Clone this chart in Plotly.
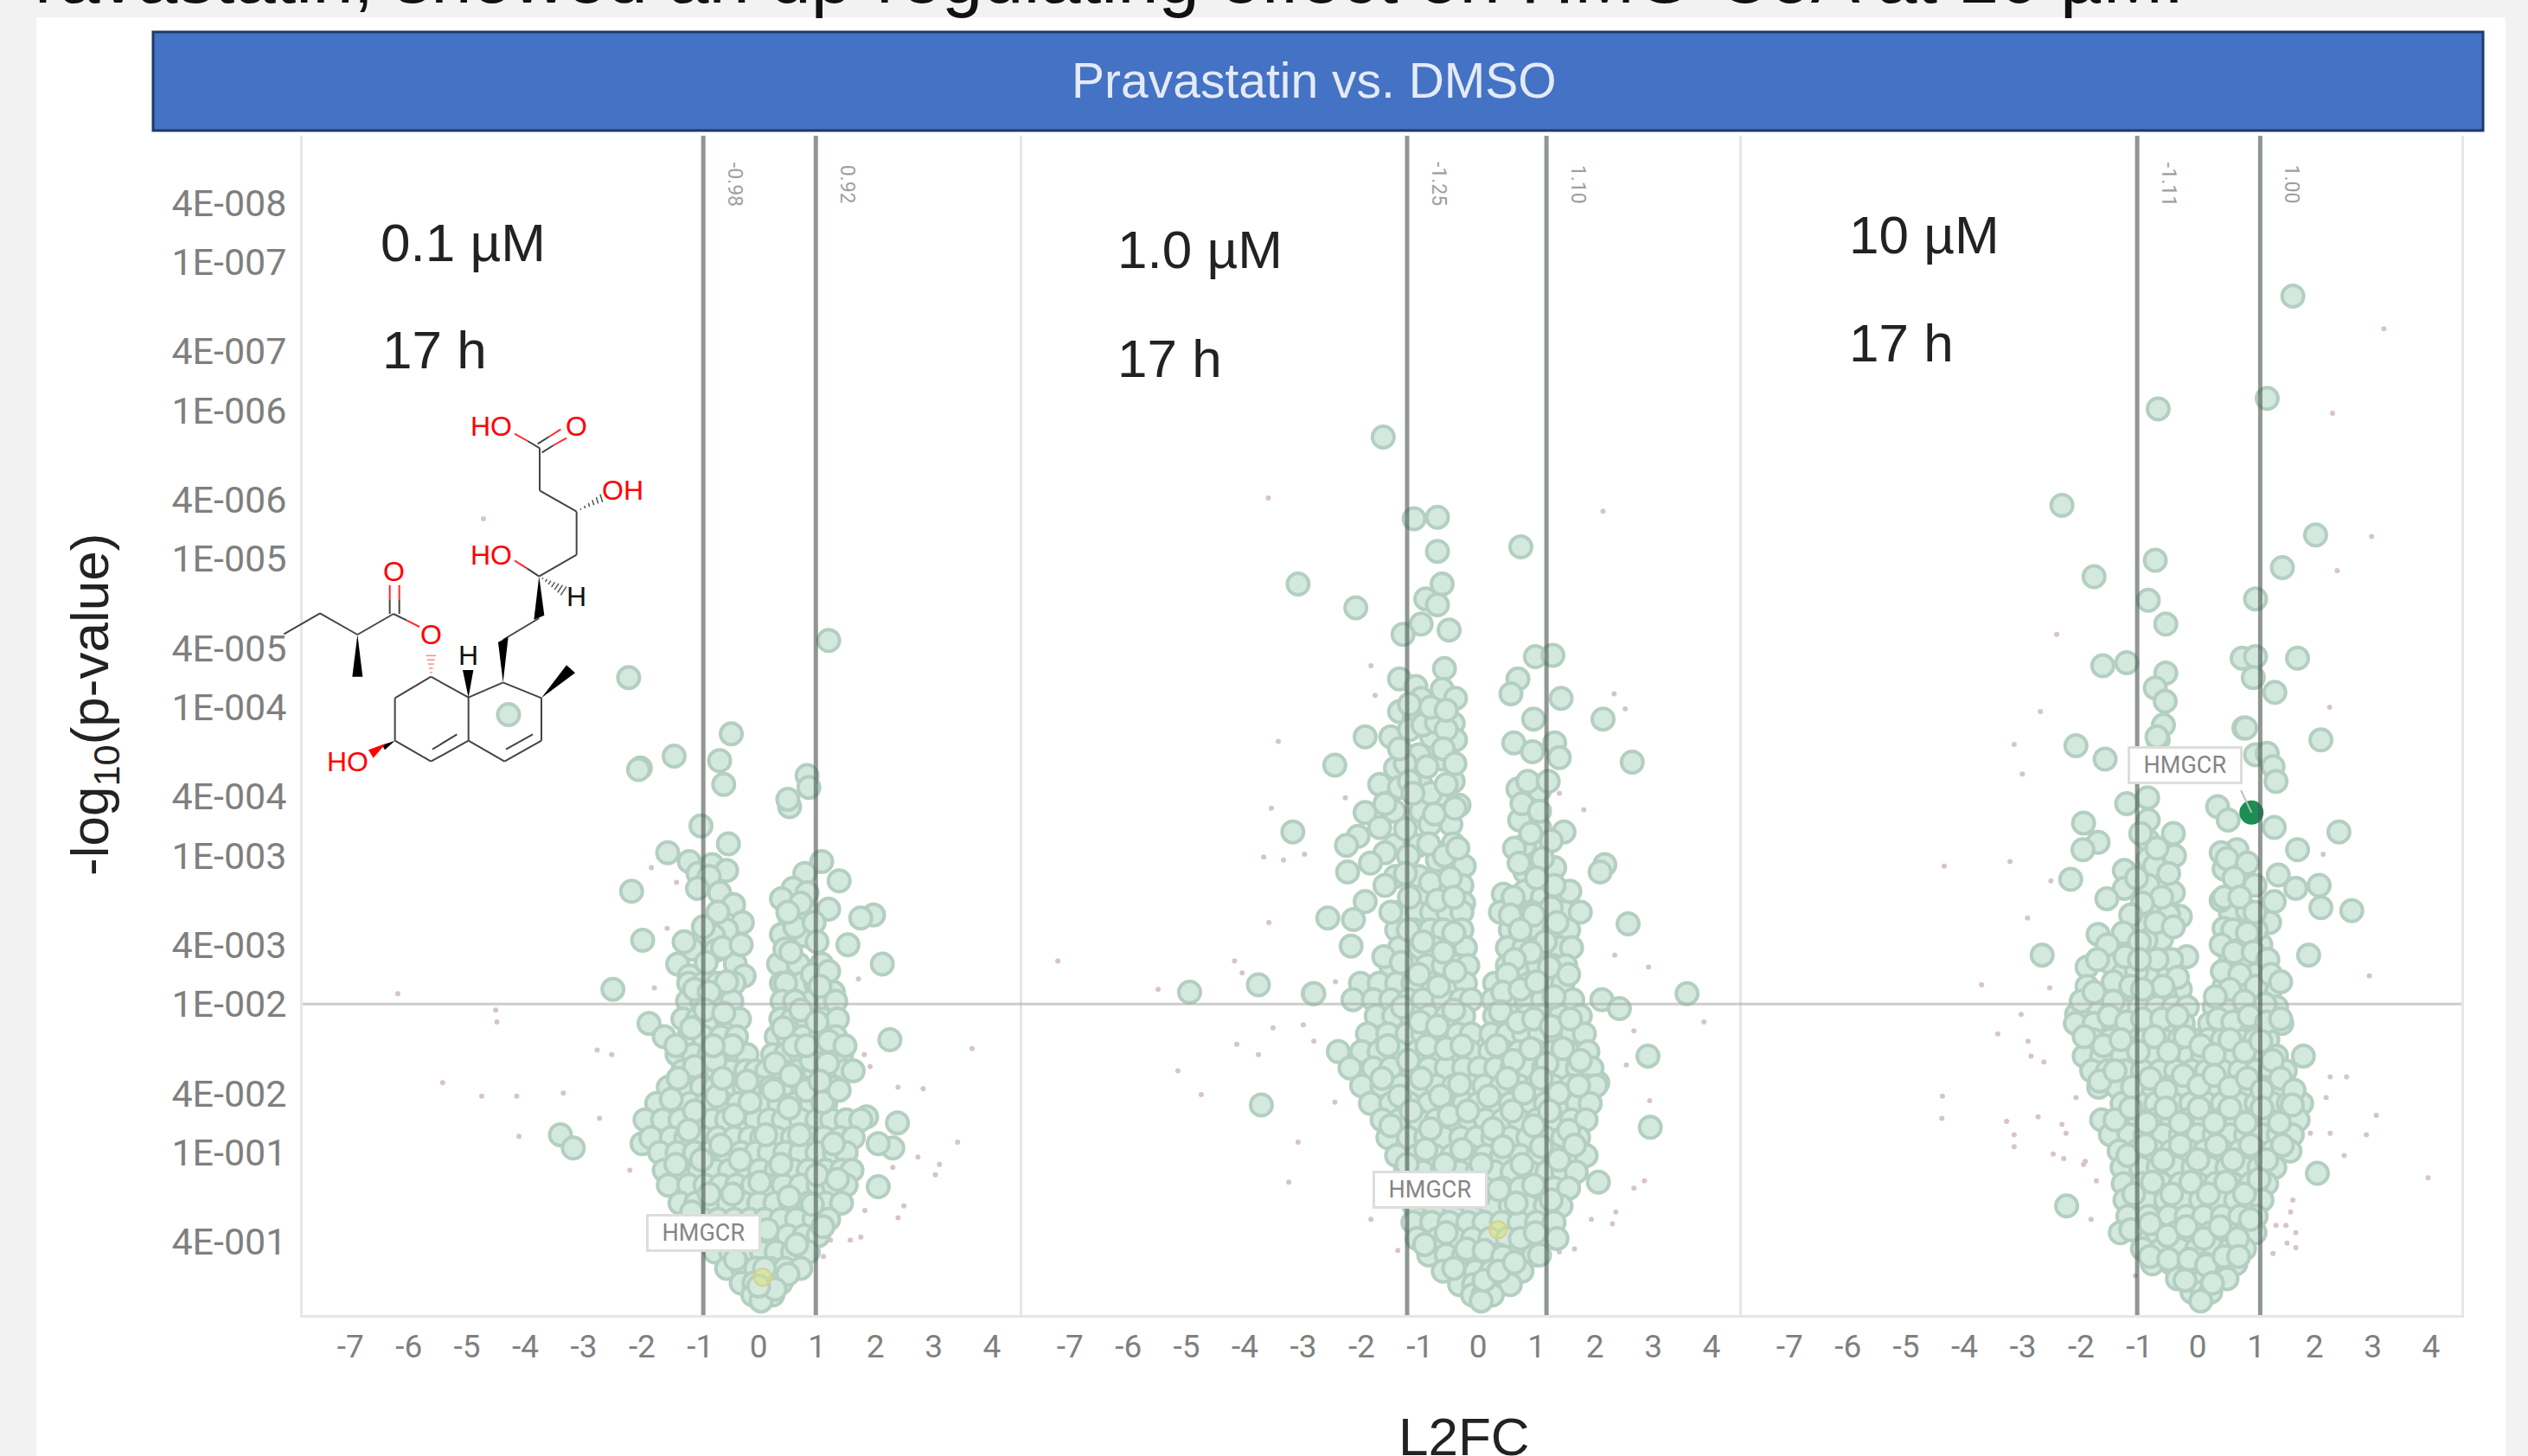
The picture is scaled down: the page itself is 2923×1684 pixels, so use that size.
import plotly.graph_objects as go

W, H = 2923, 1684

# ---- axis content ----
x_tick_vals = [-7, -6, -5, -4, -3, -2, -1, 0, 1, 2, 3, 4]
x_tick_text = ["-7", "-6", "-5", "-4", "-3", "-2", "-1", "0", "1", "2", "3", "4"]
y_tick_vals = [7.398, 7, 6.398, 6, 5.398, 5, 4.398, 4, 3.398, 3, 2.398, 2, 1.398, 1, 0.398]
y_tick_text = ["4E-008", "1E-007", "4E-007", "1E-006", "4E-006", "1E-005", "4E-005", "1E-004",
               "4E-004", "1E-003", "4E-003", "1E-002", "4E-002", "1E-001", "4E-001"]
threshold_p = 2.0
p1_cut = [-0.95, 0.98]; p1_cut_text = ["-0.98", "0.92"]
p2_cut = [-1.22, 1.17]; p2_cut_text = ["-1.25", "1.10"]
p3_cut = [-1.04, 1.07]; p3_cut_text = ["-1.11", "1.00"]

# ---- panel 1: 0.1 uM ----
p1_sparse = [(1.2,4.45),(-4.29,3.95),(-2.23,4.2),(-2.03,3.59),(-0.47,3.82),(-1.45,3.67),(-2.06,3.58),
 (-0.67,3.64),(-0.6,3.48),(0.83,3.54),(0.86,3.46),(0.53,3.33),(0.5,3.38),(-0.99,3.2),(-0.52,3.08),
 (-1.56,3.02),(-1.19,2.96),(-1.04,2.88),(-0.8,2.94),(-0.55,2.9),(-0.85,2.86),(-2.18,2.76),(-0.67,2.75),
 (-0.43,2.67),(-0.28,2.55),(-0.55,2.5),(-0.77,2.46),(-1.99,2.43),(-1.14,2.37),(-1.39,2.27),(-1.19,2.19),
 (-0.4,2.27),(-0.74,2.36),(-0.25,2.19),(-2.5,2.1),(1.08,2.96),(0.79,2.88),(1.38,2.83),(0.59,2.78),
 (0.39,2.71),(0.83,2.75),(1.2,2.64),(0.52,2.6),(0.82,2.63),(1.97,2.6),(1.75,2.58),(0.39,2.47),(0.79,2.46),
 (1.53,2.4),(0.34,2.27),(0.68,2.27),(1.08,2.27),(0.45,2.37),(2.12,2.27),(1.28,2.08),(0.39,2.14),(0.74,2.14),
 (-1.88,1.87),(2.25,1.76),(2.38,1.2),(2.3,1.03),(2.05,0.77),(2.05,1.06),(1.85,1.24),(-3.4,1.12),(-3.18,1.03),
 (-2.0,1.06)]
p1_rows = [
 (2.14,[-1.2,-0.95,-0.7,-0.42,0.46,0.98]),
 (2.02,[-1.22,-0.98,-0.72,-0.46,0.4,0.62,0.9,1.18,1.32]),
 (1.9,[-1.3,-1.05,-0.8,-0.55,-0.33,0.38,0.58,0.82,1.1,1.35]),
 (1.78,[-1.62,-1.2,-0.95,-0.65,-0.38,0.3,0.5,0.76,1.05,1.32]),
 (1.66,[-1.4,-1.12,-0.85,-0.6,-0.35,-0.2,0.24,0.46,0.72,0.98,1.26,1.42]),
 (1.55,[-1.3,-1.0,-0.72,-0.48,-0.22,-0.05,0.14,0.4,0.66,0.95,1.22,1.48,1.62]),
 (1.44,[-1.55,-1.25,-0.98,-0.75,-0.5,-0.25,0.0,0.2,0.45,0.75,1.02,1.3]),
 (1.33,[-1.75,-1.45,-1.18,-0.9,-0.6,-0.35,-0.1,0.1,0.35,0.62,0.9,1.15]),
 (1.22,[-1.95,-1.65,-1.35,-1.05,-0.8,-0.55,-0.3,-0.05,0.18,0.42,0.72,1.0,1.25,1.5,1.75]),
 (1.1,[-1.85,-1.5,-1.25,-0.95,-0.7,-0.42,-0.15,0.05,0.3,0.58,0.85,1.12,1.4,1.62]),
 (1.0,[-1.7,-1.4,-1.1,-0.85,-0.58,-0.3,-0.05,0.18,0.45,0.72,1.0,1.3,1.5]),
 (0.88,[-1.62,-1.3,-1.02,-0.75,-0.5,-0.2,0.02,0.3,0.6,0.85,1.15,1.42,1.6]),
 (0.78,[-1.55,-1.2,-0.92,-0.65,-0.38,-0.1,0.15,0.42,0.72,1.02,1.28,1.5]),
 (0.66,[-1.35,-1.08,-0.8,-0.52,-0.25,0.0,0.28,0.55,0.85,1.15,1.42]),
 (0.55,[-0.95,-0.7,-0.42,-0.15,0.1,0.38,0.65,0.95,1.2]),
 (0.44,[-0.85,-0.6,-0.3,-0.05,0.2,0.5,0.78,1.02]),
 (0.33,[-0.75,-0.48,-0.2,0.05,0.3,0.58,0.85]),
 (0.22,[-0.55,-0.28,-0.05,0.2,0.45,0.72]),
 (0.12,[-0.3,-0.08,0.15,0.38]),
 (0.04,[-0.1,0.08,0.24]),
 (0.0,[0.04]),
]
p1_fill = [(-1.05,2.78),(-0.7,2.62),(-0.95,2.52),(-0.62,2.38),(-0.9,2.28),(-1.28,2.42),(-0.55,2.15),(-0.3,2.4),(-1.1,2.1),
 (-0.85,2.08),(0.62,2.52),(0.95,2.55),(0.72,2.68),(1.0,2.42),(0.55,2.35),(0.92,2.2),(1.2,2.22),(0.62,2.02),(0.5,2.62),(1.05,2.12),
 (-1.42,1.72),(-1.1,1.58),(-0.75,1.62),(-0.45,1.72),(-0.2,1.48),(0.28,1.6),(0.6,1.72),(0.9,1.62),(1.2,1.75),(1.48,1.72),
 (-1.5,1.36),(-1.1,1.28),(-0.72,1.38),(-0.42,1.25),(-0.15,1.34),(0.25,1.42),(0.52,1.3),(0.82,1.42),(1.1,1.34),(1.38,1.42),
 (-1.2,1.15),(-0.65,1.05),(-0.98,0.95),(-0.32,0.95),(0.12,1.12),(0.38,0.92),(0.7,1.12),(1.0,0.85),(1.28,1.06),(-1.42,0.92),
 (-0.85,0.72),(-0.45,0.72),(0.02,0.8),(0.52,0.7),(0.92,0.65),(1.35,0.82),(-1.15,0.6),(-0.62,0.5),(-0.25,0.42),(0.15,0.48),
 (0.65,0.38),(1.1,0.5),(-0.4,0.28),(0.1,0.22),(0.5,0.18),(0.28,0.08),(0.0,0.1),(-0.92,1.96),(-0.6,1.94),(0.72,1.96),(1.0,1.88),
 (-1.15,1.84),(-0.78,1.72),(0.42,1.84),(0.82,1.72),(1.18,1.6),(-0.62,1.5),(-1.38,1.5),(0.55,1.52),(1.05,1.48)]
p1_minor = [(-6.19,2.07),(-4.51,1.96),(-4.49,1.88),(-5.42,1.47),(-4.75,1.38),(-4.15,1.38),(-3.35,1.4),(-4.11,1.11),
 (-2.73,1.23),(-2.21,0.88),(-2.77,1.69),(-2.52,1.66),(-1.84,2.92),(-1.41,2.82),(-1.57,2.51),(-1.79,2.11),(3.66,1.7),
 (2.39,1.44),(2.82,1.43),(3.41,1.07),(2.73,0.97),(3.1,0.92),(3.03,0.85),(2.3,0.9),(2.49,0.64),(2.39,0.56),(1.82,0.61),
 (1.81,1.66),(1.91,1.58),(1.71,2.17),(1.75,0.43),(1.57,0.41),(1.23,0.41),(1.11,0.3),(-4.72,5.27)]
p1_target = (0.07, 0.16)

# ---- panel 2: 1.0 uM ----
p2_sparse = [(-1.63,5.82),(-1.1,5.27),(-0.7,5.28),(-0.7,5.05),(0.73,5.08),(-3.09,4.83),(-2.1,4.67),(-0.62,4.83),
 (-0.9,4.73),(-0.7,4.69),(-0.98,4.56),(-0.5,4.52),(-1.29,4.49),(0.98,4.34),(1.28,4.35),(0.68,4.19),(0.56,4.09),
 (-1.35,4.19),(-0.58,4.26),(-0.62,4.12),(-1.07,4.14),(-0.39,4.06),(-0.98,4.06),(1.42,4.06),(-1.35,3.97),(-0.77,3.97),
 (2.14,3.92),(-0.43,3.89),(0.95,3.92),(-1.1,3.92),(-1.94,3.8),(-1.5,3.8),(-0.8,3.8),(-0.39,3.78),(0.61,3.76),(1.31,3.76),
 (0.93,3.7),(1.39,3.66),(-1.02,3.68),(-0.62,3.65),(-2.46,3.61),(2.64,3.63),(-1.42,3.59),(-0.43,3.5),(-1.69,3.48),
 (-0.98,3.48),(-1.35,3.46),(0.68,3.45),(1.05,3.44),(-0.7,3.4),(-0.33,3.34),(-1.94,3.29),(-1.44,3.3),(-0.98,3.3),
 (0.71,3.24),(1.05,3.19),(1.47,3.16),(-3.18,3.16),(-1.69,3.19),(-0.47,3.21),(-0.83,3.21),(-2.06,3.13),(-2.26,3.07),
 (-1.02,3.07),(-0.43,3.08),(-1.44,3.07),(0.98,3.07),(0.79,3.07),(-2.24,2.89),(-0.7,2.97),(-0.24,2.93),(1.31,2.92),
 (0.8,2.89),(2.17,2.94),(2.09,2.89),(-1.42,2.86),(-1.02,2.86),(-0.58,2.76),(-0.28,2.8),(0.43,2.74),(0.8,2.76),(1.57,2.76),
 (-1.94,2.69),(-1.0,2.72),(1.1,2.72),(-0.25,2.68),(-2.58,2.58),(-2.14,2.57),(-1.37,2.53),(-2.18,2.39),(2.57,2.54),
 (-2.83,2.07),(3.58,2.07),(2.12,2.03),(2.42,1.97),(-2.02,2.14),(2.91,1.65),(2.05,1.47),(2.95,1.17),(2.06,0.8),
 (-4.95,2.08),(-3.77,2.13),(-2.82,2.07),(-3.72,1.32)]
p2_rows = [
 (2.62,[-1.35,-1.05,-0.8,-0.52,-0.28,0.38,0.65,0.92,1.2,1.48,1.75]),
 (2.5,[-1.4,-1.1,-0.82,-0.6,-0.28,0.55,0.8,1.05,1.3,1.55]),
 (2.38,[-1.35,-1.0,-0.75,-0.45,-0.22,0.5,0.78,1.08,1.4,1.6]),
 (2.26,[-1.5,-1.2,-0.88,-0.6,-0.35,-0.18,0.5,0.75,1.02,1.3,1.5]),
 (2.14,[-1.7,-1.4,-1.12,-0.78,-0.5,-0.22,0.28,0.58,0.88,1.18,1.45]),
 (2.03,[-2.15,-1.8,-1.5,-1.2,-0.95,-0.6,-0.3,-0.12,0.25,0.52,0.82,1.1,1.35,1.62]),
 (1.92,[-1.75,-1.45,-1.15,-0.85,-0.55,-0.25,0.28,0.55,0.82,1.1,1.4,1.75]),
 (1.8,[-1.9,-1.55,-1.22,-0.95,-0.62,-0.35,-0.12,0.22,0.5,0.78,1.05,1.32,1.6,1.82]),
 (1.68,[-2.4,-2.0,-1.7,-1.38,-1.05,-0.72,-0.42,-0.14,0.2,0.45,0.7,1.0,1.28,1.55,1.88]),
 (1.57,[-2.2,-1.8,-1.5,-1.15,-0.85,-0.55,-0.25,0.02,0.3,0.58,0.85,1.12,1.4,1.7,1.95]),
 (1.45,[-2.0,-1.65,-1.32,-1.02,-0.72,-0.42,-0.12,0.1,0.4,0.7,0.98,1.28,1.58,1.85,2.02]),
 (1.33,[-1.85,-1.5,-1.18,-0.85,-0.55,-0.25,0.0,0.28,0.55,0.85,1.15,1.45,1.7,1.92]),
 (1.22,[-1.65,-1.35,-1.02,-0.72,-0.42,-0.15,0.12,0.42,0.7,1.0,1.3,1.6,1.85]),
 (1.1,[-1.55,-1.2,-0.9,-0.6,-0.3,-0.03,0.25,0.55,0.85,1.15,1.45,1.72]),
 (0.98,[-1.4,-1.05,-0.75,-0.45,-0.15,0.12,0.4,0.72,1.02,1.3,1.6,1.85]),
 (0.87,[-1.25,-0.95,-0.62,-0.32,-0.02,0.28,0.58,0.88,1.18,1.45,1.68]),
 (0.76,[-1.2,-0.85,-0.5,-0.2,0.1,0.42,0.72,1.02,1.3,1.55]),
 (0.64,[-1.1,-0.75,-0.42,-0.1,0.22,0.55,0.85,1.15,1.42]),
 (0.53,[-1.12,-0.8,-0.5,-0.18,0.1,0.4,0.7,1.0,1.3]),
 (0.42,[-1.05,-0.7,-0.4,-0.1,0.2,0.5,0.82,1.1,1.35]),
 (0.31,[-0.85,-0.55,-0.25,0.05,0.35,0.65,0.95,1.05]),
 (0.2,[-0.6,-0.32,-0.05,0.22,0.5,0.75]),
 (0.11,[-0.32,-0.08,0.15,0.38,0.55]),
 (0.04,[-0.1,0.08,0.24]),
 (0.0,[0.05]),
]
p2_fill = [(-1.18,3.85),(-0.95,3.88),(-0.72,3.9),(-0.55,3.85),(-1.25,3.62),(-0.88,3.6),(-0.6,3.72),(-0.4,3.62),(-1.18,3.5),
 (-0.82,3.42),(-0.55,3.48),(-1.25,3.18),(-1.6,3.35),(-0.75,3.28),(-0.4,3.32),(-1.6,3.02),(-1.2,3.0),(-0.85,3.08),(-0.58,3.0),
 (-0.35,3.05),(-1.85,2.95),(-1.25,2.88),(-0.82,2.82),(-0.48,2.85),(-1.6,2.8),(-1.18,2.72),(-0.7,2.7),(-0.42,2.72),(-1.5,2.62),
 (-1.2,2.5),(-0.95,2.42),(-0.6,2.35),(-0.42,2.48),(-1.12,3.42),(-1.35,3.72),(-0.82,4.0),(-1.18,4.02),(-0.55,3.98),
 (0.85,3.5),(1.2,3.5),(0.75,3.35),(1.05,3.3),(0.9,3.15),(1.25,3.1),(0.62,3.05),(1.1,2.98),(0.7,2.95),(1.3,2.8),(1.0,2.85),(0.6,2.72),
 (1.25,2.65),(0.95,2.6),(0.55,2.6),(1.35,2.55),(0.72,2.5),(1.15,2.42),(0.9,2.35),(0.62,2.3),(1.22,2.25),(0.5,2.2),
 (-1.62,2.32),(-1.32,2.28),(-1.02,2.2),(-0.68,2.12),(-0.4,2.22),(0.42,2.08),(0.72,2.1),(1.0,2.15),(1.3,2.05),(1.55,2.2),
 (-1.3,1.98),(-1.0,1.88),(-0.7,1.85),(-0.42,1.96),(0.38,1.95),(0.68,1.88),(0.95,1.9),(1.25,1.85),(1.58,1.9),
 (-1.55,1.72),(-1.2,1.62),(-0.88,1.72),(-0.55,1.7),(-0.28,1.72),(0.32,1.72),(0.6,1.62),(0.9,1.7),(1.18,1.6),(1.45,1.7),(1.75,1.62),
 (-1.65,1.5),(-1.35,1.38),(-0.98,1.5),(-0.65,1.38),(-0.32,1.46),(0.18,1.38),(0.5,1.5),(0.78,1.4),(1.08,1.5),(1.38,1.4),(1.72,1.45),
 (-1.5,1.18),(-1.15,1.28),(-0.82,1.16),(-0.5,1.25),(-0.18,1.28),(0.25,1.16),(0.58,1.28),(0.95,1.18),(1.22,1.28),(1.55,1.15),
 (-1.22,0.92),(-0.9,1.02),(-0.58,0.92),(-0.28,1.02),(0.05,0.92),(0.42,1.04),(0.75,0.92),(1.08,1.04),(1.38,0.95),(1.65,1.05),
 (-1.0,0.7),(-0.65,0.78),(-0.3,0.7),(0.0,0.7),(0.35,0.75),(0.65,0.66),(0.95,0.78),(1.25,0.68),
 (-0.92,0.38),(-0.55,0.46),(-0.2,0.35),(0.1,0.34),(0.42,0.3),(0.72,0.42),(0.98,0.46),(-0.42,0.22),(0.1,0.14),(0.35,0.2),(0.62,0.26)]
p2_minor = [(-3.6,5.41),(2.14,5.32),(-1.84,4.28),(-1.77,4.08),(2.33,4.09),(2.52,3.99),(-3.43,3.77),(-2.28,3.39),
 (-3.55,3.32),(1.81,3.31),(1.39,3.42),(-3.68,2.99),(-3.34,2.97),(-2.98,3.01),(-3.59,2.55),(-7.21,2.29),(-4.18,2.29),
 (-5.49,2.1),(-4.05,2.21),(-2.45,2.15),(2.34,2.33),(2.92,2.25),(-3.0,1.86),(-3.52,1.84),(-4.14,1.73),(-3.77,1.66),
 (-2.82,1.75),(-5.15,1.55),(-4.75,1.39),(-3.09,1.07),(-2.46,1.34),(-3.25,0.8),(-1.84,0.55),(-1.38,0.34),(2.67,1.82),
 (3.87,1.88),(2.54,1.59),(2.94,1.35),(2.85,0.81),(2.67,0.76),(2.36,0.6),(2.3,0.52),(1.94,0.55),(1.65,0.35),(1.39,0.33)]
p2_target = (0.34, 0.48)

# ---- panel 3: 10 uM ----
p3_sparse = [(1.63,6.77),(-0.68,6.01),(1.19,6.08),(-2.33,5.36),(2.02,5.16),(1.45,4.94),(-1.78,4.88),(-0.73,4.99),
 (-0.85,4.72),(0.99,4.73),(-0.55,4.56),(-1.63,4.28),(-1.22,4.3),(-0.55,4.23),(0.76,4.33),(0.99,4.34),(1.71,4.33),
 (-0.73,4.13),(0.95,4.2),(1.32,4.1),(-0.56,4.04),(-0.59,3.88),(2.11,3.78),(0.79,3.86),(-0.68,3.78),(-2.09,3.74),
 (-1.59,3.65),(0.82,3.86),(0.99,3.68),(1.19,3.69),(1.29,3.6),(1.34,3.5),(-0.7,3.8),(-1.22,3.35),(-0.86,3.39),(-0.85,3.24),
 (-0.85,3.1),(0.34,3.33),(0.52,3.24),(1.31,3.19),(-1.96,3.22),(2.42,3.16),(-0.42,3.15),(-1.71,3.09),(-1.97,3.04),(1.71,3.04),
 (0.67,3.04),(0.4,3.02),(-0.4,3.0),(-0.85,2.98),(-1.26,2.9),(-0.74,2.93),(-2.18,2.84),(1.38,2.87),(0.74,2.86),(0.45,2.91),
 (2.08,2.8),(1.68,2.78),(-0.42,2.75),(-0.85,2.8),(-1.26,2.78),(-1.56,2.71),(2.11,2.65),(2.64,2.63),(1.31,2.69),(-0.85,2.63),
 (-0.3,2.59),(0.56,2.61),(0.4,2.7),(0.85,2.63),(-1.71,2.47),(-0.62,2.44),(-0.89,2.43),(0.74,2.42),(0.45,2.51),(1.23,2.55),
 (1.9,2.33),(-2.67,2.33),(-1.51,2.28),(-0.19,2.32),(0.56,2.3),(-1.9,2.25),(-0.79,2.18),(-1.29,2.2),(-1.9,2.12),(-0.3,2.1),
 (0.45,2.12),(0.7,2.07),(1.23,2.07),(-2.08,1.93),(-1.05,2.22),(-0.5,2.2),(0.85,2.28),(1.08,2.4),(-1.05,2.55),(-0.5,2.6),
 (1.0,2.5),(1.0,2.2),(-1.2,2.05),(-0.85,2.02),(-0.55,2.05),(-1.6,2.07),(2.05,0.86),(-2.25,0.64)]
p3_rows = [
 (1.98,[-1.7,-1.35,-1.0,-0.7,-0.42,-0.18,0.28,0.55,0.82,1.1,1.35]),
 (1.87,[-2.1,-1.78,-1.45,-1.15,-0.85,-0.55,-0.25,0.2,0.45,0.72,1.0,1.25,1.44]),
 (1.76,[-1.8,-1.5,-1.18,-0.9,-0.6,-0.32,-0.08,0.18,0.42,0.7,0.98,1.2]),
 (1.65,[-1.95,-1.65,-1.3,-1.0,-0.72,-0.42,-0.15,0.08,0.35,0.62,0.9,1.15,1.35,1.81]),
 (1.55,[-1.82,-1.55,-1.25,-0.95,-0.65,-0.38,-0.1,0.15,0.42,0.72,1.0,1.25,1.5]),
 (1.44,[-1.7,-1.38,-1.08,-0.8,-0.52,-0.25,0.05,0.3,0.58,0.85,1.12,1.38]),
 (1.33,[-1.3,-1.0,-0.72,-0.42,-0.12,0.15,0.42,0.72,1.0,1.28,1.55,1.78]),
 (1.22,[-1.65,-1.32,-1.02,-0.75,-0.45,-0.18,0.1,0.38,0.65,0.92,1.22,1.5,1.72]),
 (1.12,[-1.5,-1.18,-0.9,-0.6,-0.3,0.0,0.28,0.55,0.82,1.1,1.38,1.62]),
 (1.01,[-1.35,-1.05,-0.75,-0.45,-0.15,0.12,0.42,0.72,1.0,1.28,1.58]),
 (0.9,[-1.3,-0.98,-0.68,-0.38,-0.08,0.2,0.5,0.78,1.05,1.32]),
 (0.79,[-1.28,-0.95,-0.62,-0.3,0.0,0.3,0.6,0.9,1.18]),
 (0.68,[-1.25,-0.9,-0.55,-0.25,0.05,0.35,0.65,0.95,1.1]),
 (0.57,[-1.2,-0.85,-0.5,-0.2,0.1,0.42,0.72,1.0]),
 (0.46,[-1.33,-1.0,-0.7,-0.38,-0.08,0.22,0.52,0.8,0.98]),
 (0.35,[-0.95,-0.62,-0.32,-0.02,0.28,0.55,0.8]),
 (0.25,[-0.78,-0.45,-0.15,0.12,0.4,0.65]),
 (0.15,[-0.35,-0.12,0.12,0.35,0.5]),
 (0.06,[-0.1,0.08,0.22]),
 (0.0,[0.05]),
]
p3_fill = [(-0.98,3.15),(-0.7,3.05),(-0.5,2.88),(-1.05,2.85),(-0.62,2.72),(-0.95,2.68),(-1.15,2.6),(-0.72,2.55),(-0.42,2.52),
 (-1.28,2.48),(-1.0,2.42),(-0.45,2.3),(-1.55,2.4),(-1.25,2.32),(-0.7,2.3),(-1.0,2.3),(-1.72,2.3),(-0.35,2.18),(-0.6,2.12),
 (-1.45,2.15),(-1.15,2.12),(-0.95,2.1),(-2.0,2.02),(-1.78,2.08),(-1.45,2.02),
 (0.5,2.98),(0.85,2.95),(0.62,2.85),(0.98,2.8),(0.45,2.72),(0.72,2.72),(0.98,2.62),(0.6,2.5),(0.85,2.48),(0.4,2.4),(0.62,2.35),
 (0.95,2.35),(1.2,2.3),(0.42,2.22),(0.72,2.2),(1.0,2.12),(0.55,2.1),(1.25,2.2),(0.3,2.05),(0.8,2.02),(1.15,2.0),(1.42,2.15),
 (-1.52,1.92),(-1.22,1.88),(-0.95,1.9),(-0.62,1.9),(-0.35,1.92),(0.35,1.9),(0.6,1.88),(0.88,1.92),(1.18,1.88),(1.42,1.9),
 (-1.95,1.78),(-1.62,1.72),(-1.32,1.76),(-1.02,1.68),(-0.75,1.78),(-0.5,1.68),(-0.22,1.78),(0.05,1.72),(0.28,1.66),(0.55,1.76),
 (0.8,1.68),(1.08,1.75),(1.28,1.62),
 (-1.68,1.48),(-1.42,1.55),(-1.12,1.44),(-0.82,1.5),(-0.55,1.42),(-0.25,1.52),(0.02,1.45),(0.28,1.52),(0.55,1.44),(0.85,1.5),
 (1.1,1.42),(1.42,1.5),(1.65,1.42),
 (-1.42,1.22),(-1.15,1.3),(-0.88,1.2),(-0.55,1.3),(-0.3,1.2),(0.02,1.3),(0.28,1.2),(0.55,1.3),(0.82,1.2),(1.1,1.3),(1.4,1.2),(1.62,1.32),
 (-1.2,0.98),(-0.9,1.05),(-0.6,0.95),(-0.3,1.05),(0.0,0.95),(0.32,1.05),(0.6,0.95),(0.9,1.05),(1.18,0.95),(1.45,1.05),
 (-1.1,0.72),(-0.78,0.8),(-0.45,0.72),(-0.12,0.8),(0.18,0.72),(0.48,0.8),(0.8,0.72),(1.05,0.82),
 (-1.15,0.48),(-0.82,0.52),(-0.52,0.44),(-0.2,0.5),(0.1,0.42),(0.38,0.5),(0.68,0.42),(0.9,0.55),
 (-0.82,0.3),(-0.5,0.28),(-0.15,0.28),(0.15,0.24),(0.45,0.3),(0.7,0.3),(-0.22,0.14),(0.25,0.12)]
p3_minor = [(3.19,6.55),(2.31,5.98),(2.98,5.15),(2.39,4.92),(-2.42,4.49),(2.26,4.0),(-2.7,3.97),(-3.15,3.75),(-3.01,3.55),
 (-4.35,2.93),(-3.22,2.96),(-2.52,2.83),(-2.92,2.58),(2.15,3.01),(2.94,2.19),(-3.71,2.13),(-2.54,2.11),(-3.03,1.93),
 (-3.43,1.8),(-2.91,1.75),(-2.86,1.65),(-2.64,1.61),(-4.38,1.38),(-4.39,1.23),(-3.28,1.21),(-3.15,1.12),(-3.15,1.04),
 (-2.74,1.24),(-2.33,1.19),(-2.26,1.13),(-2.09,1.37),(-2.48,0.99),(-1.93,0.94),(-1.74,0.81),(2.27,1.51),(2.55,1.51),
 (2.2,1.37),(3.06,1.25),(2.89,1.12),(1.93,1.13),(2.27,1.13),(3.95,0.83),(2.51,0.98),(1.51,0.51),(1.34,0.51),(1.68,0.46),
 (1.53,0.39),(1.68,0.36),(1.29,0.32),(1.63,0.68),(1.59,0.6),(-1.07,0.17),(-1.83,0.55),(-1.96,0.92),(-2.3,0.96)]
p3_target = (0.92, 3.29)

panel_titles = [("0.1 µM", "17 h"), ("1.0 µM", "17 h"), ("10 µM", "17 h")]
hmgcr_boxes = [(-0.95, 0.46), (-0.83, 0.75), (-0.22, 3.61)]

# ---- layout helpers (page pixels to paper fractions) ----
def fx(px): return px / W
def fy(py): return 1 - py / H

LEFT = [350, 1182, 2014]
PANEL_W = 832
TOP, BOTTOM = 157, 1521
XR = [-7.82, 4.52]
YR = [-0.095, 7.85]

def unpack(sparse, rows, fill):
    xs = [p[0] for p in sparse]
    ys = [p[1] for p in sparse]
    for y, row in rows:
        xs += row
        ys += [y] * len(row)
    xs += [p[0] for p in fill]
    ys += [p[1] for p in fill]
    return xs, ys

fig = go.Figure()
panels = [(p1_sparse, p1_rows, p1_fill, p1_minor, p1_target, p1_cut, p1_cut_text),
          (p2_sparse, p2_rows, p2_fill, p2_minor, p2_target, p2_cut, p2_cut_text),
          (p3_sparse, p3_rows, p3_fill, p3_minor, p3_target, p3_cut, p3_cut_text)]
shapes, annos = [], []

# page background and header
shapes.append(dict(type="rect", xref="paper", yref="paper", x0=fx(42), x1=fx(2897), y0=fy(1684), y1=fy(20),
                   fillcolor="white", line_width=0, layer="below"))
shapes.append(dict(type="rect", xref="paper", yref="paper", x0=fx(177), x1=fx(2871), y0=fy(151), y1=fy(37),
                   fillcolor="#4472c4", line=dict(color="#1f3a68", width=3), layer="below"))

for i, (sparse, rows, fill, minor, target, cut, cut_text) in enumerate(panels):
    n = "" if i == 0 else str(i + 1)
    xa, ya = "x" + n, "y" + n
    fig.add_trace(go.Scatter(x=[p[0] for p in minor], y=[p[1] for p in minor], mode="markers", xaxis=xa, yaxis=ya,
                             marker=dict(size=6, color="#d8c4c8", line_width=0), hoverinfo="skip", showlegend=False))
    xs, ys = unpack(sparse, rows, fill)
    fig.add_trace(go.Scatter(x=xs, y=ys, mode="markers", xaxis=xa, yaxis=ya,
                             marker=dict(size=25, color="#d3e9de", line=dict(color="#b4cfc2", width=4)),
                             hoverinfo="skip", showlegend=False))
    if i < 2:
        fig.add_trace(go.Scatter(x=[target[0]], y=[target[1]], mode="markers", xaxis=xa, yaxis=ya,
                                 marker=dict(size=20, color="rgba(215,225,130,0.55)",
                                             line=dict(color="#d9cf8c", width=2)),
                                 hoverinfo="skip", showlegend=False))
    else:
        fig.add_trace(go.Scatter(x=[target[0]], y=[target[1]], mode="markers", xaxis=xa, yaxis=ya,
                                 marker=dict(size=28, color="#1b8f53", line_width=0),
                                 hoverinfo="skip", showlegend=False))
    axis_common = dict(showgrid=False, zeroline=False, showline=True, linecolor="#e6e6e6", linewidth=3)
    fig.layout["xaxis" + n] = go.layout.XAxis(
        domain=[fx(LEFT[i]), fx(LEFT[i] + PANEL_W)], range=XR, anchor=ya, tickmode="array",
        tickvals=x_tick_vals, ticktext=x_tick_text, ticks="outside", ticklen=2, tickcolor="rgba(0,0,0,0)",
        tickfont=dict(family="Roboto", size=37, color="#7f7f7f"), **axis_common)
    fig.layout["yaxis" + n] = go.layout.YAxis(
        domain=[fy(BOTTOM), fy(TOP)], range=YR, anchor=xa, tickmode="array", tickvals=y_tick_vals,
        ticktext=y_tick_text, ticks="outside" if i == 0 else "", ticklen=7, tickcolor="rgba(0,0,0,0)",
        showticklabels=(i == 0), mirror=(i == 2),
        tickfont=dict(family="Roboto", size=43, color="#7f7f7f"), **axis_common)
    # significance lines
    shapes.append(dict(type="line", xref=xa, yref=ya, x0=XR[0], x1=XR[1], y0=threshold_p, y1=threshold_p,
                       line=dict(color="rgba(170,170,170,0.6)", width=3)))
    for c, t in zip(cut, cut_text):
        shapes.append(dict(type="line", xref=xa, yref=ya, x0=c, x1=c, y0=YR[0], y1=YR[1],
                           line=dict(color="rgba(75,85,80,0.62)", width=5)))
        annos.append(dict(xref=xa, yref="paper", x=c, y=fy(213), text=t, showarrow=False, textangle=90, xshift=37,
                          xanchor="center", yanchor="middle",
                          font=dict(family="Roboto", size=23, color="#a0a0a0")))
    annos.append(dict(xref=xa, yref=ya, x=hmgcr_boxes[i][0], y=hmgcr_boxes[i][1], text="HMGCR", showarrow=False,
                      xanchor="center", yanchor="middle", width=125, height=36, align="center", valign="middle",
                      bgcolor="white", bordercolor="#dddddd", borderwidth=3, borderpad=1,
                      font=dict(family="Roboto", size=27, color="#858585")))

# leader from the label to the highlighted point in panel 3
shapes.append(dict(type="line", xref="x3", yref="y3", x0=0.74, y0=3.44, x1=p3_target[0], y1=p3_target[1],
                   line=dict(color="#bbbbbb", width=2)))

# concentration / time captions
cap_pos = [((438, 280), (440, 405)), ((1290, 289), (1290, 414)), ((2136, 272), (2136, 397))]
for (a, b), (pa, pb) in zip(panel_titles, cap_pos):
    for txt, (px, py) in ((a, pa), (b, pb)):
        annos.append(dict(xref="paper", yref="paper", x=fx(px), y=fy(py), text=txt, showarrow=False,
                          xanchor="left", yanchor="middle",
                          font=dict(family="Liberation Sans", size=62, color="#222222")))

# text around the chart
annos += [
    dict(xref="paper", yref="paper", x=fx(1519), y=fy(93), text="Pravastatin vs. DMSO", showarrow=False,
         xanchor="center", yanchor="middle", font=dict(family="Liberation Sans", size=57, color="#e4eaf6")),
    dict(xref="paper", yref="paper", x=fx(1693), y=fy(1661), text="L2FC", showarrow=False,
         xanchor="center", yanchor="middle", font=dict(family="Liberation Sans", size=62, color="#222222")),
    dict(xref="paper", yref="paper", x=fx(108), y=fy(815), text="-log<sub>10</sub>(p-value)", showarrow=False,
         xanchor="center", yanchor="middle", textangle=-90,
         font=dict(family="Liberation Sans", size=62, color="#222222")),
    dict(xref="paper", yref="paper", x=fx(38), y=fy(-27), text="ravastatin, showed an up-regulating effect on HMG-CoA at 10 µM.",
         showarrow=False, xanchor="left", yanchor="middle",
         font=dict(family="Liberation Sans", size=85, color="#111111")),
]

# pravastatin structure drawing (picture coordinates of the inset)
def mx(c): return fx(320 + c / 3)
def my(c): return fy(460 + c / 3)
def bond(a, b, color="#444444", w=2):
    shapes.append(dict(type="line", xref="paper", yref="paper", x0=mx(a[0]), y0=my(a[1]), x1=mx(b[0]), y1=my(b[1]),
                       line=dict(color=color, width=w)))
def wedge(t, a, b, color="#000000"):
    path = "M {} {} L {} {} L {} {} Z".format(mx(t[0]), my(t[1]), mx(a[0]), my(a[1]), mx(b[0]), my(b[1]))
    shapes.append(dict(type="path", xref="paper", yref="paper", path=path, fillcolor=color, line_width=0))
def hashed(t, a, b, n, color="#555555"):
    for k in range(1, n + 1):
        f = k / n
        p = (t[0] + (a[0] - t[0]) * f, t[1] + (a[1] - t[1]) * f)
        q = (t[0] + (b[0] - t[0]) * f, t[1] + (b[1] - t[1]) * f)
        bond(p, q, color, 1.5)
black_bonds = [((25,820),(150,748)),((150,748),(280,822)),((280,822),(405,750)),((535,968),(410,1042)),((410,1042),(410,1190)),
 ((410,1190),(535,1262)),((535,1262),(665,1190)),((540,1220),(625,1168)),((665,1190),(665,1040)),((665,1040),(535,968)),
 ((665,1040),(785,988)),((785,988),(918,1042)),((918,1042),(918,1190)),((918,1190),(790,1262)),((795,1220),(888,1168)),
 ((790,1262),(665,1190)),((785,840),(910,765)),((910,620),(1040,545)),((1040,545),(1040,395)),((1040,395),(912,322)),
 ((912,322),(912,175)),((392,750),(392,700)),((425,750),(425,700)),((905,160),(945,135)),((920,190),(960,165)),
 ((912,175),(870,150)),((405,750),(450,772)),((910,620),(868,592))]
red_bonds = [((392,700),(392,650)),((425,700),(425,650)),((945,135),(985,110)),((960,165),(1005,140)),((870,150),(825,125)),
 ((450,772),(495,795)),((868,592),(825,565))]
for a, b in black_bonds: bond(a, b)
for a, b in red_bonds: bond(a, b, "#ff2a2a")
wedge((280,822),(262,968),(298,968))
wedge((665,1040),(645,945),(682,945))
wedge((785,988),(768,848),(803,830))
wedge((918,1042),(1005,928),(1035,955))
wedge((910,620),(892,770),(928,755))
wedge((410,1190),(365,1205),(375,1222))
wedge((378,1200),(318,1222),(335,1250),"#ff0000")
hashed((535,968),(518,895),(552,895),5,"#ff8888")
hashed((1040,395),(1122,335),(1130,362),6)
hashed((910,620),(1005,655),(985,685),7)
atom_labels = [("HO",745,100,"#ff0000"),("O",1040,100,"#ff0000"),("OH",1200,322,"#ff0000"),("HO",745,545,"#ff0000"),
 ("H",1040,690,"#111111"),("O",408,603,"#ff0000"),("O",535,822,"#ff0000"),("H",663,895,"#111111"),("HO",245,1262,"#ff0000")]
for t, cx, cy, col in atom_labels:
    annos.append(dict(xref="paper", yref="paper", x=mx(cx), y=my(cy), text=t, showarrow=False,
                      xanchor="center", yanchor="middle",
                      font=dict(family="Liberation Sans", size=32, color=col)))

fig.update_layout(width=W, height=H, margin=dict(l=0, r=0, t=0, b=0), autosize=False,
                  paper_bgcolor="#f2f2f2", plot_bgcolor="rgba(0,0,0,0)", showlegend=False,
                  shapes=shapes, annotations=annos, hovermode=False)
fig.write_html("out.html", config={"displayModeBar": False},
               post_script="document.body.style.margin='0';document.body.style.overflow='hidden';")
